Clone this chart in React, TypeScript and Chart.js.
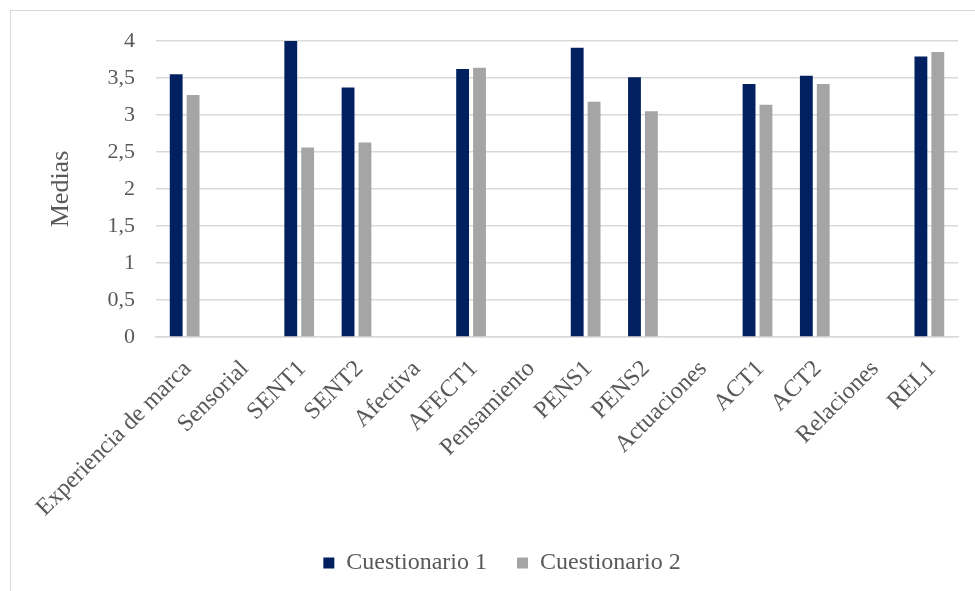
import React, { useEffect, useRef } from "react";
import { Chart, registerables } from "chart.js";

Chart.register(...registerables);

const categories = [
  "Experiencia de marca",
  "Sensorial",
  "SENT1",
  "SENT2",
  "Afectiva",
  "AFECT1",
  "Pensamiento",
  "PENS1",
  "PENS2",
  "Actuaciones",
  "ACT1",
  "ACT2",
  "Relaciones",
  "REL1",
];

const cuestionario1 = [3.55, null, 4.0, 3.37, null, 3.62, null, 3.91, 3.51, null, 3.42, 3.53, null, 3.79];
const cuestionario2 = [3.27, null, 2.56, 2.63, null, 3.64, null, 3.18, 3.05, null, 3.14, 3.42, null, 3.85];

const seriesNames = ["Cuestionario 1", "Cuestionario 2"];
const seriesColors = ["#002060", "#A5A5A5"];

const FONT = '"Liberation Serif", "Times New Roman", serif';
const TEXT = "#595959";
const GRID = "#D9D9D9";

export default function App() {
  const canvasRef = useRef<HTMLCanvasElement | null>(null);

  useEffect(() => {
    document.body.style.margin = "0";
    const canvas = canvasRef.current;
    if (!canvas) return;
    const chart = new Chart(canvas, {
      type: "bar",
      data: {
        labels: categories,
        datasets: [
          {
            label: seriesNames[0],
            data: cuestionario1,
            backgroundColor: seriesColors[0],
            categoryPercentage: 0.59,
            barPercentage: 0.76,
          },
          {
            label: seriesNames[1],
            data: cuestionario2,
            backgroundColor: seriesColors[1],
            categoryPercentage: 0.59,
            barPercentage: 0.76,
          },
        ],
      },
      options: {
        animation: false,
        responsive: false,
        maintainAspectRatio: false,
        layout: { padding: { left: 46, top: 41, right: 17, bottom: 6 } },
        plugins: {
          tooltip: { enabled: false },
          legend: {
            position: "bottom",
            labels: {
              boxWidth: 11,
              boxHeight: 11,
              padding: 30,
              color: TEXT,
              font: { family: FONT, size: 24 },
            },
          },
        },
        scales: {
          x: {
            grid: { display: false },
            border: { display: true, color: GRID, width: 1.5 },
            ticks: {
              color: TEXT,
              font: { family: FONT, size: 24 },
              maxRotation: 45,
              minRotation: 45,
              autoSkip: false,
              padding: 10,
              labelOffset: 3,
            },
            afterFit: (scale: any) => {
              scale.height = 184;
            },
          },
          y: {
            min: 0,
            max: 4,
            border: { display: false },
            grid: { color: GRID, lineWidth: 1.5, drawTicks: false },
            ticks: {
              stepSize: 0.5,
              color: TEXT,
              padding: 21,
              font: { family: FONT, size: 22 },
              callback: (v: any) => String(v).replace(".", ","),
            },
            title: {
              display: true,
              text: "Medias",
              color: TEXT,
              font: { family: FONT, size: 26 },
              padding: { top: 0, bottom: 0 },
            },
            afterFit: (scale: any) => {
              scale.width = 110;
            },
          },
        },
      },
    });
    return () => chart.destroy();
  }, []);

  return (
    <div style={{ position: "absolute", left: 0, top: 0, width: 975, height: 591, overflow: "hidden", background: "#fff" }}>
      <div
        style={{
          position: "absolute",
          left: 10,
          top: 10,
          width: 975,
          height: 591,
          border: "1px solid #D9D9D9",
          boxSizing: "border-box",
        }}
      />
      <canvas ref={canvasRef} width={975} height={591} style={{ position: "absolute", left: 0, top: 0 }} />
    </div>
  );
}
